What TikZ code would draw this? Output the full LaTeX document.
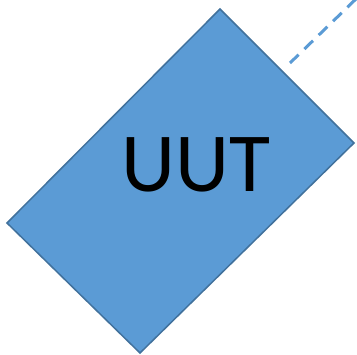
\documentclass[tikz,border=0pt]{standalone}
\usepackage{fontspec}
\setmainfont{Carlito}
\definecolor{boxfill}{HTML}{5B9BD5}
\definecolor{boxline}{HTML}{41719C}
\begin{document}
\begin{tikzpicture}[x=1pt,y=-1pt,
  uutbox/.style={fill=boxfill,draw=boxline,line width=1.5pt,line join=miter},
  dashlink/.style={draw=boxfill,line width=3pt,dash pattern=on 12pt off 8pt}]
\useasboundingbox (0,0) rectangle (357,355);
\coordinate (t) at (220,9);
\coordinate (r) at (354,143);
\coordinate (b) at (140,353);
\coordinate (l) at (7,223);
\path[uutbox] (t) -- (r) -- (b) -- (l) -- cycle;
\node[inner sep=0pt,font=\fontsize{84}{84}\selectfont] (uut) at (196,165) {UUT};
\coordinate (d1) at (290,63);
\coordinate (d2) at (358,-3);
\draw[dashlink] (d1) -- (d2);
\end{tikzpicture}
\end{document}
